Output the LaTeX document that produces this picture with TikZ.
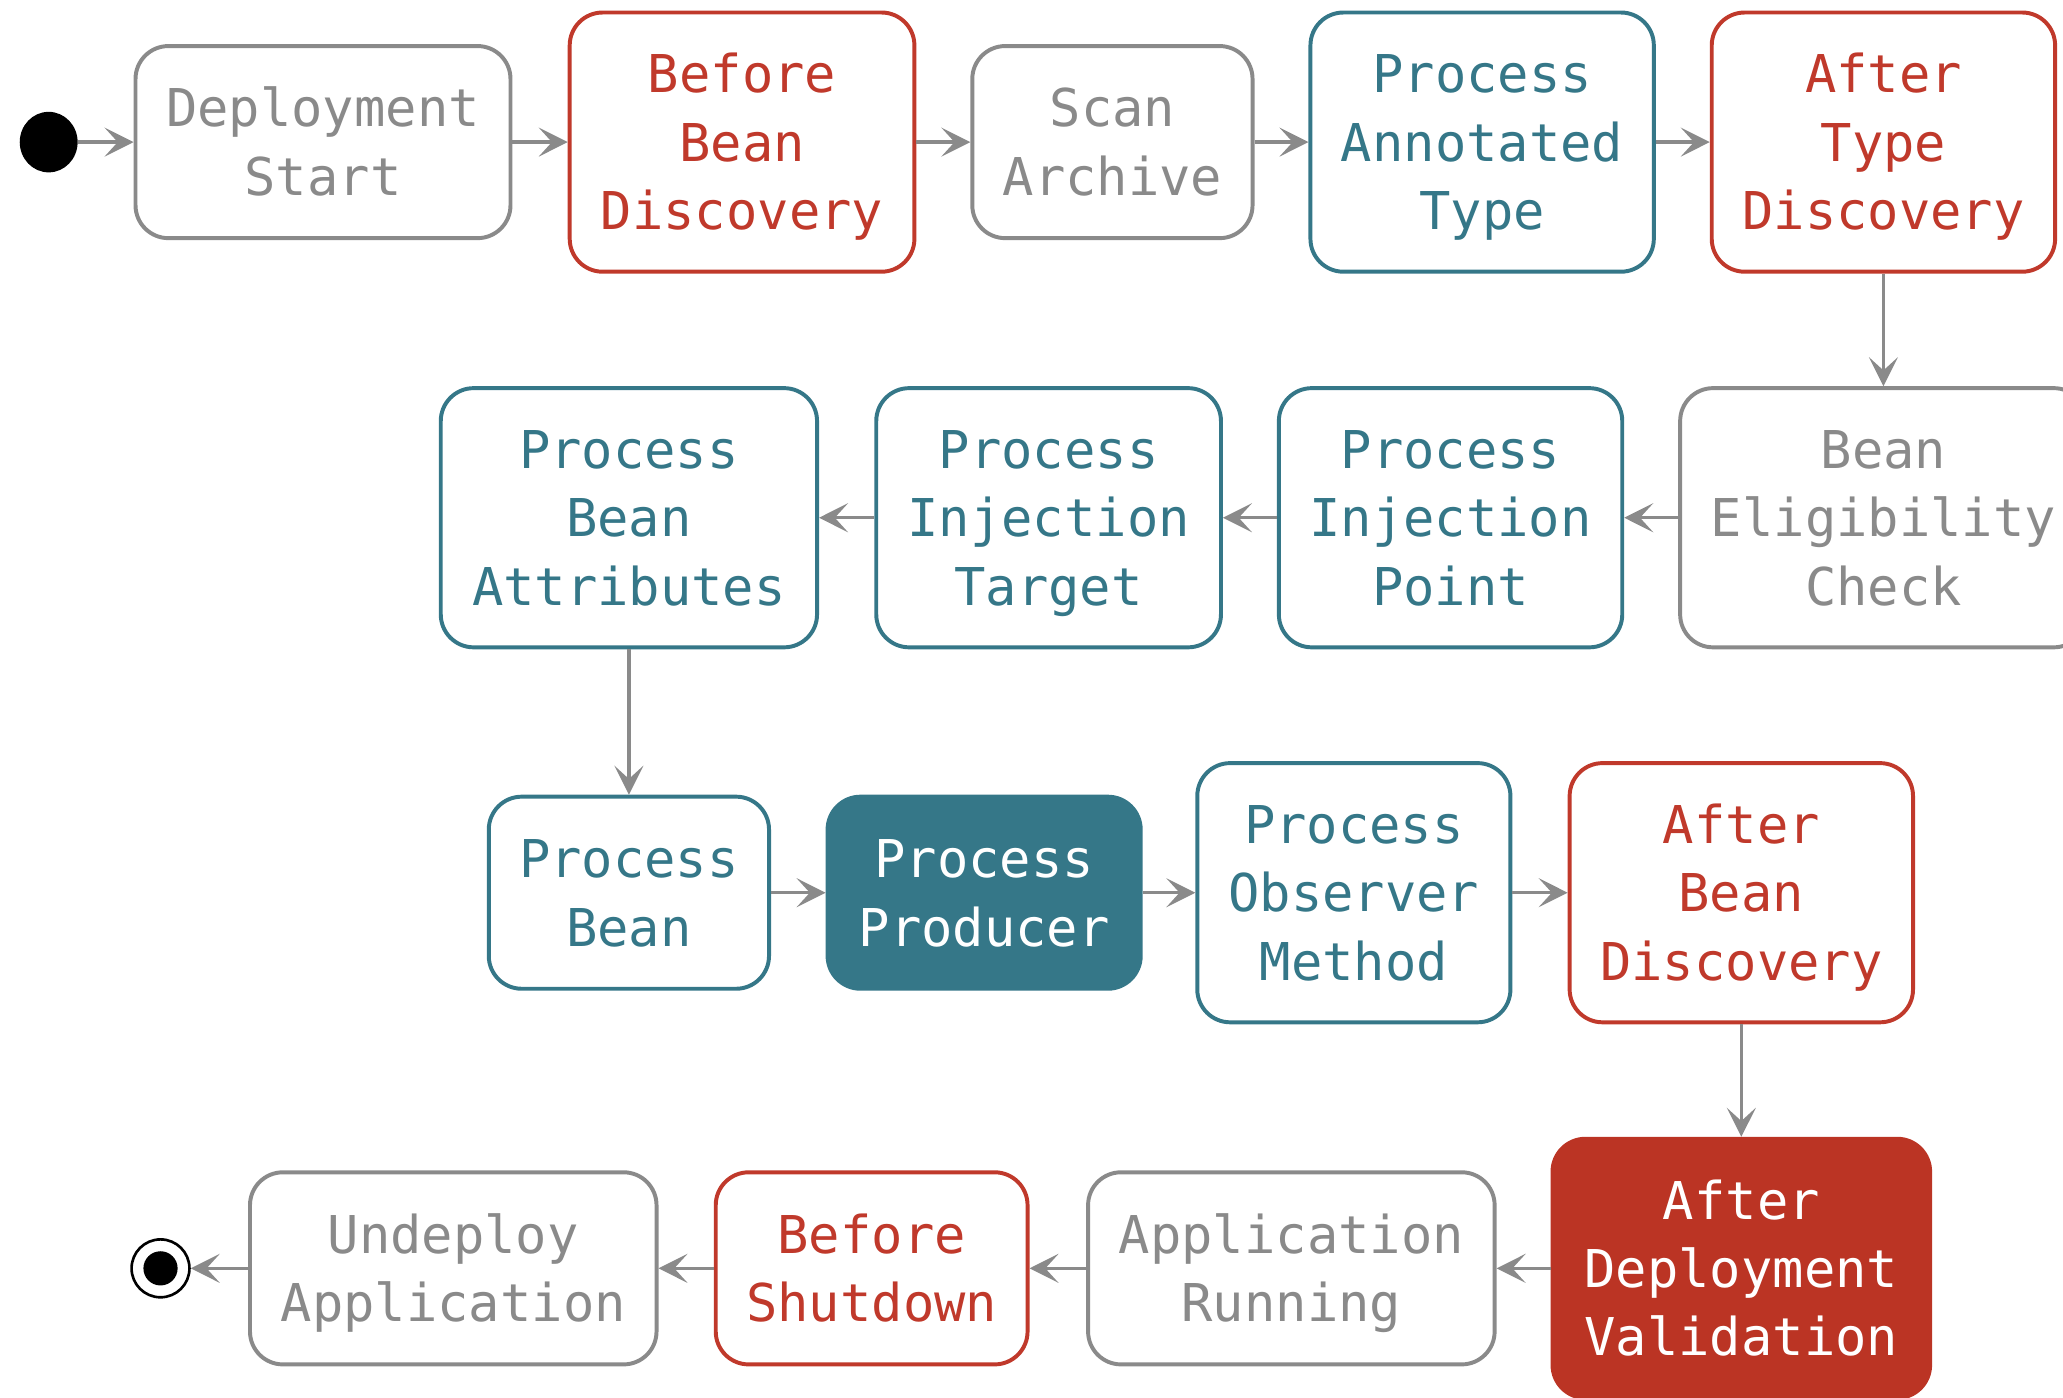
\documentclass[tikz,border=0pt]{standalone}
\usepackage{fontspec}
\newfontfamily\monofont{DejaVu Sans Mono}
\usetikzlibrary{arrows.meta,shapes.geometric}
\definecolor{cgray}{HTML}{8A8A8A}
\definecolor{cred}{HTML}{C0392B}
\definecolor{credfill}{HTML}{BB3424}
\definecolor{cteal}{HTML}{357788}
\tikzset{
  box/.style={rectangle, rounded corners=12.5pt, line width=1.5pt, fill=white,
    inner sep=0pt, align=center, font=\monofont\fontsize{19.8}{26}\selectfont,
    text depth=5pt},
  graybox/.style={box, draw=cgray, text=cgray},
  redbox/.style={box, draw=cred, text=cred},
  tealbox/.style={box, draw=cteal, text=cteal},
  tealfill/.style={box, draw=cteal, fill=cteal, text=white},
  redfill/.style={box, draw=credfill, fill=credfill, text=white},
  sz/.style 2 args={minimum width=#1*0.5pt, minimum height=#2*0.5pt},
  twol/.style={text height=45.5pt},
  threel/.style={text height=71.5pt},
  arr/.style={draw=cgray, line width=1.3pt, -{Stealth[length=11pt,width=11pt,inset=5pt]}}
}
\begin{document}
\begin{tikzpicture}[x=0.5pt,y=-0.5pt]
\useasboundingbox (0,0) rectangle (1568,1062);
% start
\node[ellipse, fill=black, minimum width=22pt, minimum height=23pt, inner sep=0pt] (start) at (37,108) {};
% row 1
\node[graybox, twol, sz={285}{146}] (ds) at (245.5,108) {Deployment\\Start};
\node[redbox, threel, sz={262}{197}] (bbd) at (564,108) {Before\\Bean\\Discovery};
\node[graybox, twol, sz={213}{146}] (sa) at (845.5,108) {Scan\\Archive};
\node[tealbox, threel, sz={261}{197}] (pat) at (1126.5,108) {Process\\Annotated\\Type};
\node[redbox, threel, sz={261}{197}] (atd) at (1431.5,108) {After\\Type\\Discovery};
% row 2
\node[graybox, threel, sz={309}{197}] (bec) at (1431.5,393.5) {Bean\\Eligibility\\Check};
\node[tealbox, threel, sz={261}{197}] (pip) at (1102.5,393.5) {Process\\Injection\\Point};
\node[tealbox, threel, sz={262}{197}] (pit) at (797,393.5) {Process\\Injection\\Target};
\node[tealbox, threel, sz={286}{197}] (pba) at (478,393.5) {Process\\Bean\\Attributes};
% row 3
\node[tealbox, twol, sz={213}{146}] (pb) at (478,678.5) {Process\\Bean};
\node[tealfill, twol, sz={238}{146}] (pp) at (748,678.5) {Process\\Producer};
\node[tealbox, threel, sz={238}{197}] (pom) at (1029,678.5) {Process\\Observer\\Method};
\node[redbox, threel, sz={261}{197}] (abd) at (1323.5,678.5) {After\\Bean\\Discovery};
% row 4
\node[redfill, threel, sz={287}{197}] (adv) at (1323.5,964) {After\\Deployment\\Validation};
\node[graybox, twol, sz={309}{146}] (ar) at (981.5,964) {Application\\Running};
\node[redbox, twol, sz={237}{146}] (bs) at (662.5,964) {Before\\Shutdown};
\node[graybox, twol, sz={309}{146}] (ua) at (344.5,964) {Undeploy\\Application};
% end
\node[circle, draw=black, line width=1pt, fill=white, minimum size=22pt, inner sep=0pt] (end) at (122,964) {};
\fill[black] (end.center) circle[radius=13];
% connectors
\draw[arr] (start) -- (ds);
\draw[arr] (ds) -- (bbd);
\draw[arr] (bbd) -- (sa);
\draw[arr] (sa) -- (pat);
\draw[arr] (pat) -- (atd);
\draw[arr] (atd) -- (bec);
\draw[arr] (bec) -- (pip);
\draw[arr] (pip) -- (pit);
\draw[arr] (pit) -- (pba);
\draw[arr] (pba) -- (pb);
\draw[arr] (pb) -- (pp);
\draw[arr] (pp) -- (pom);
\draw[arr] (pom) -- (abd);
\draw[arr] (abd) -- (adv);
\draw[arr] (adv) -- (ar);
\draw[arr] (ar) -- (bs);
\draw[arr] (bs) -- (ua);
\draw[arr] (ua) -- (end);
\end{tikzpicture}
\end{document}
